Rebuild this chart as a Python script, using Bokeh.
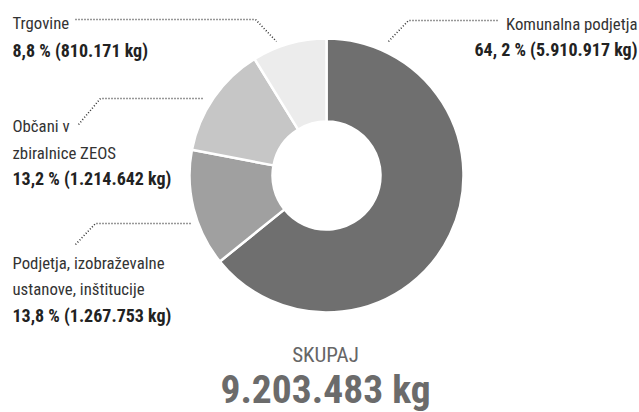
import numpy as np
from bokeh.plotting import figure
from bokeh.models import Range1d, ColumnDataSource
from bokeh.core.properties import value
from bokeh.embed import file_html
from bokeh.resources import INLINE

# ---- data ----
categories = ["Komunalna podjetja", "Podjetja, izobraževalne ustanove, inštitucije",
              "Občani v zbiralnice ZEOS", "Trgovine"]
shares = [64.2, 13.8, 13.2, 8.8]
share_labels = ["64, 2 % (5.910.917 kg)", "13,8 % (1.267.753 kg)",
                "13,2 % (1.214.642 kg)", "8,8 % (810.171 kg)"]
total_title = "SKUPAJ"
total_label = "9.203.483 kg"
colors = ["#6f6f6f", "#a0a0a0", "#c6c6c6", "#ececec"]

W, H = 639, 412
FONT = "Roboto Condensed, DejaVu Sans Condensed, sans-serif"
REG, BOLD = 16.8, 18
def Y(y):
    return H - y

p = figure(width=W, height=H, x_range=Range1d(0, W), y_range=Range1d(0, H),
           output_backend="svg", toolbar_location=None, min_border=0)
p.axis.visible = False
p.grid.visible = False
p.outline_line_color = None
p.background_fill_color = "white"
p.border_fill_color = "white"

frac = np.array(shares) / sum(shares)
cum = np.concatenate([[0], np.cumsum(frac)])
start = np.pi / 2 - 2 * np.pi * cum[:-1]
end = np.pi / 2 - 2 * np.pi * cum[1:]
src = ColumnDataSource(dict(start=start, end=end, color=colors))
p.annular_wedge(x=326, y=Y(175), inner_radius=54, outer_radius=137,
                start_angle="start", end_angle="end", direction="clock",
                fill_color="color", line_color="white", line_width=2.5, source=src)

# leader lines (dotted)
leaders = [
    ([497, 408, 387], [20, 20, 42]),
    ([75, 255, 276], [19, 19, 41]),
    ([202, 100, 78], [98, 98, 124]),
    ([190, 95, 75], [223, 223, 244]),
]
for xs, ys in leaders:
    p.line(xs, [Y(v) for v in ys], line_color="#333333", line_width=1.6, line_dash="1 2")

def txt(x, y, s, size, bold=False, align="left", color="#333333"):
    # y is the desired visual baseline; compensate renderer's baseline offset
    p.text(x=[x], y=[Y(y - 0.29 * size)], text=[s], text_font=value(FONT),
           text_font_size=f"{size}px", text_font_style="bold" if bold else "normal",
           text_align=align, text_baseline="alphabetic", text_color=color)

# Komunalna
txt(637, 28, categories[0], REG, align="right")
txt(637, 54, share_labels[0], BOLD, bold=True, align="right", color="#222222")
# Trgovine
txt(12, 27, categories[3], REG)
txt(12, 55, share_labels[3], BOLD, bold=True, color="#222222")
# Občani
txt(12, 130, "Občani v", REG)
txt(12, 157, "zbiralnice ZEOS", REG)
txt(12, 183, share_labels[2], BOLD, bold=True, color="#222222")
# Podjetja
txt(12, 267, "Podjetja, izobraževalne", REG)
txt(12, 293, "ustanove, inštitucije", REG)
txt(12, 320, share_labels[1], BOLD, bold=True, color="#222222")
# total
txt(325, 361, total_title, 21, align="center", color="#666666")
txt(325, 400, total_label, 39.5, bold=True, align="center", color="#6b6b6b")

open("out.html", "w").write(file_html(p, INLINE))
